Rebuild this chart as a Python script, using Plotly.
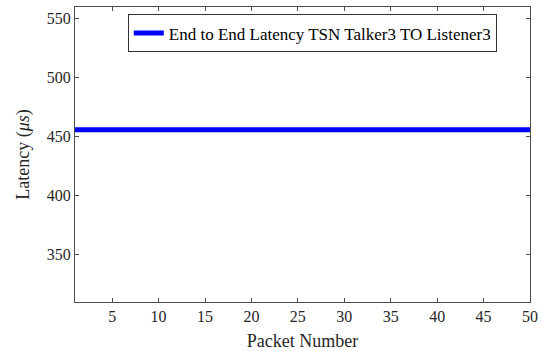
import plotly.graph_objects as go

# Packet index and measured end-to-end latency (microseconds)
packets = list(range(1, 51))
latency_us = [
    456, 456, 456, 456, 456, 456, 456, 456, 456, 456,
    456, 456, 456, 456, 456, 456, 456, 456, 456, 456,
    456, 456, 456, 456, 456, 456, 456, 456, 456, 456,
    456, 456, 456, 456, 456, 456, 456, 456, 456, 456,
    456, 456, 456, 456, 456, 456, 456, 456, 456, 456,
]
x_ticks = [5, 10, 15, 20, 25, 30, 35, 40, 45, 50]
y_ticks = [350, 400, 450, 500, 550]
series_name = "End to End Latency TSN Talker3 TO Listener3"

font_family = "Liberation Serif"
axis_color = "#4d4d4d"
text_color = "#262626"

fig = go.Figure()
fig.add_trace(go.Scatter(
    x=packets, y=latency_us, mode="lines", name=series_name,
    line=dict(color="#0000ff", width=5),
))

axis_common = dict(
    showline=True, linecolor=axis_color, linewidth=1, mirror="ticks",
    ticks="inside", ticklen=4, tickcolor=axis_color, showgrid=False,
    zeroline=False, automargin=False,
    tickfont=dict(family=font_family, size=16, color=text_color),
)

fig.update_layout(
    width=543, height=351,
    margin=dict(l=75, r=13, t=7, b=49),
    paper_bgcolor="white", plot_bgcolor="white",
    font=dict(family=font_family),
    showlegend=True,
    legend=dict(
        x=0.116, y=0.975, xanchor="left", yanchor="top",
        bordercolor="#333333", borderwidth=1, bgcolor="white",
        font=dict(family=font_family, size=17, color="#000000"),
        tracegroupgap=0, itemwidth=30,
    ),
    xaxis=dict(
        range=[1, 50], tickvals=x_ticks,
        title=dict(text="Packet Number", standoff=12,
                   font=dict(family=font_family, size=18, color=text_color)),
        **axis_common,
    ),
    yaxis=dict(
        range=[310, 560], tickvals=y_ticks,
        title=dict(text="Latency (<i>μs</i>)", standoff=12,
                   font=dict(family=font_family, size=18, color=text_color)),
        **axis_common,
    ),
)

fig.write_html("out.html")
